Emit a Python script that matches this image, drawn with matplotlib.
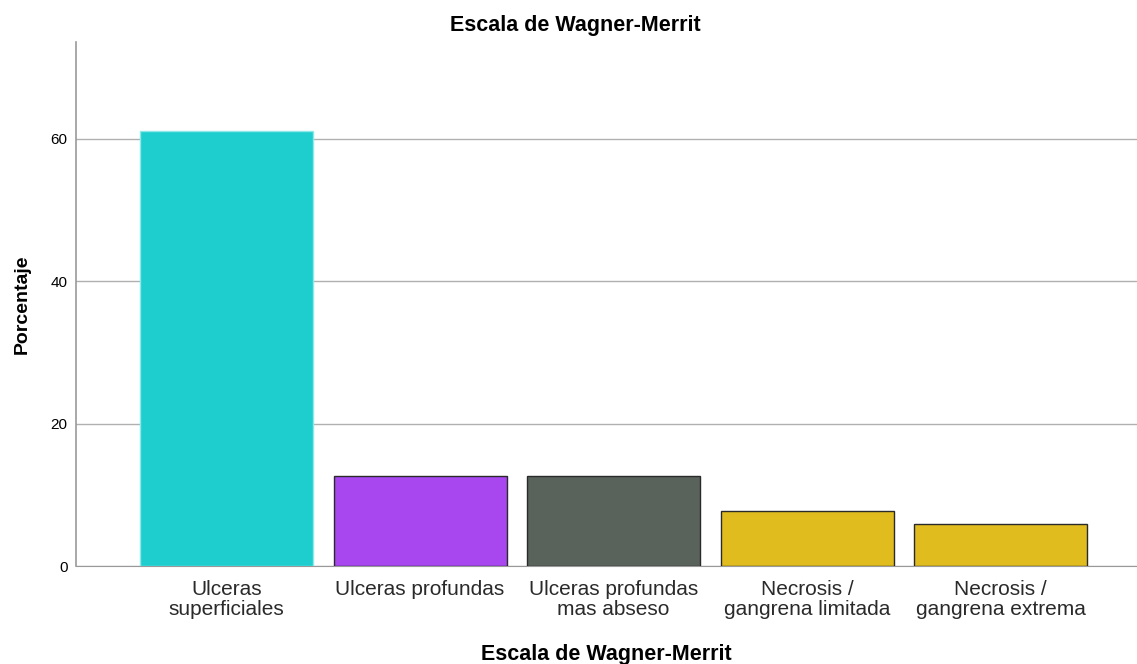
import matplotlib.pyplot as plt
import numpy as np

# Datos
categorias = ["Ulceras\nsuperficiales", "Ulceras profundas", "Ulceras profundas\nmas abseso",
              "Necrosis /\ngangrena limitada", "Necrosis /\ngangrena extrema"]
porcentaje = [61.1, 12.6, 12.6, 7.7, 5.9]
colores = ["#1ECECE", "#A846F0", "#5A625C", "#E0BC1E", "#E0BC1E"]
bordes = ["#8FE8E8", "#2a2a2a", "#2a2a2a", "#2a2a2a", "#2a2a2a"]
yticks = [0, 20, 40, 60]

plt.rcParams['font.family'] = ['Liberation Sans', 'DejaVu Sans']

fig = plt.figure(figsize=(11.37, 6.64), dpi=100)
ax = fig.add_axes([76 / 1137, (664 - 566) / 664, 1 - 76 / 1137, (566 - 42) / 664])

x = np.arange(len(categorias))
ax.bar(x, porcentaje, width=0.894, color=colores, edgecolor=bordes, linewidth=1, zorder=3)

ax.set_xlim(-0.778, 4.705)
ax.set_ylim(0, 73.6)
ax.set_yticks(yticks)
ax.set_xticks(x)
ax.set_xticklabels(categorias, fontsize=15, color="#2a2a2a", linespacing=1.05)
ax.tick_params(axis='both', length=0)
ax.tick_params(axis='y', labelsize=11, pad=6)
ax.tick_params(axis='x', pad=10)

ax.grid(axis='y', color="#b0b0b0", linewidth=1, zorder=0)
for s in ["top", "right"]:
    ax.spines[s].set_visible(False)
ax.spines["left"].set_color("#999999")
ax.spines["bottom"].set_color("#999999")
ax.spines["left"].set_linewidth(1.2)

fig.text(575 / 1137, 1 - 25 / 664, "Escala de Wagner-Merrit", fontsize=15.5,
         fontweight='bold', ha='center', va='center')
ax.set_xlabel("Escala de Wagner-Merrit", fontsize=15.5, fontweight='bold', labelpad=18)
ax.set_ylabel("Porcentaje", fontsize=14, fontweight='bold', labelpad=14)

fig.savefig("out.png", dpi=100)
